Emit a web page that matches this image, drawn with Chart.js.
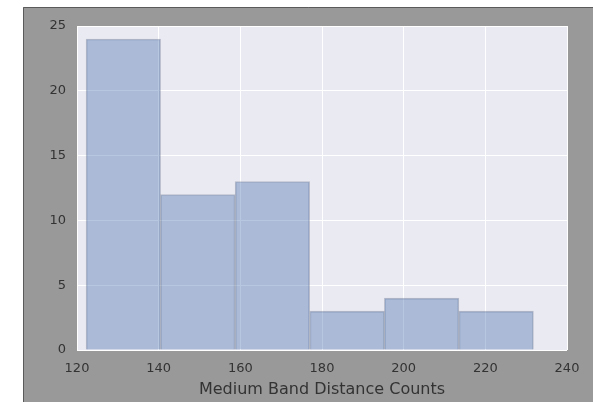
<!DOCTYPE html>
<html>
<head>
<meta charset="utf-8">
<script src="https://cdn.jsdelivr.net/npm/chart.js@4/dist/chart.umd.min.js"></script>
<style>
  html, body { margin: 0; padding: 0; background: #ffffff; }
  canvas { display: block; }
</style>
</head>
<body>
<canvas id="c" width="593" height="402"></canvas>
<script>
// Histogram bin edges and counts
const binEdges = [122.2, 140.5, 158.7, 177.0, 195.3, 213.5, 231.8];
const counts = [24, 12, 13, 3, 4, 3];
const xTicks = [120, 140, 160, 180, 200, 220, 240];
const yTicks = [0, 5, 10, 15, 20, 25];
const xLabel = 'Medium Band Distance Counts';

const points = counts.map((c, i) => ({ x: (binEdges[i] + binEdges[i + 1]) / 2, y: c }));

const framePlugin = {
  id: 'frame',
  beforeDraw(chart) {
    const ctx = chart.ctx;
    ctx.save();
    ctx.fillStyle = '#ffffff';
    ctx.fillRect(0, 0, chart.width, chart.height);
    ctx.fillStyle = '#999999';
    ctx.fillRect(23, 7, chart.width - 23, chart.height - 7);
    ctx.strokeStyle = '#5a5a5a';
    ctx.lineWidth = 1;
    ctx.beginPath();
    ctx.moveTo(23.5, chart.height);
    ctx.lineTo(23.5, 7.5);
    ctx.lineTo(chart.width, 7.5);
    ctx.stroke();
    const a = chart.chartArea;
    ctx.fillStyle = '#EAEAF2';
    ctx.fillRect(a.left, a.top, a.right - a.left, a.bottom - a.top);
    ctx.restore();
  }
};

new Chart(document.getElementById('c'), {
  type: 'bar',
  data: {
    datasets: [{
      data: points,
      backgroundColor: 'rgba(76,114,176,0.4)',
      borderColor: 'rgba(90,100,130,0.35)',
      borderWidth: 1,
      barPercentage: 1.0,
      categoryPercentage: 1.0,
      grouped: false
    }]
  },
  options: {
    responsive: false,
    animation: false,
    devicePixelRatio: 1,
    layout: { padding: { left: 0, top: 26, right: 26, bottom: 0 } },
    plugins: { legend: { display: false }, tooltip: { enabled: false } },
    scales: {
      x: {
        type: 'linear',
        offset: false,
        min: 120, max: 240,
        afterBuildTicks(scale) { scale.ticks = xTicks.map(v => ({ value: v })); },
        afterFit(scale) { scale.height = 52; },
        grid: { color: '#ffffff', lineWidth: 1, drawTicks: false, offset: false },
        border: { display: false },
        ticks: {
          padding: 11,
          color: '#333333',
          font: { family: 'DejaVu Sans', size: 13 },
          maxRotation: 0,
          autoSkip: false
        },
        title: {
          display: true,
          text: xLabel,
          color: '#333333',
          font: { family: 'DejaVu Sans', size: 16 },
          padding: { top: 0, bottom: 3 }
        }
      },
      y: {
        min: 0, max: 25,
        afterBuildTicks(scale) { scale.ticks = yTicks.map(v => ({ value: v })); },
        afterFit(scale) { scale.width = 77; },
        grid: { color: '#ffffff', lineWidth: 1, drawTicks: false },
        border: { display: false },
        ticks: {
          padding: 11,
          color: '#333333',
          font: { family: 'DejaVu Sans', size: 13 }
        }
      }
    }
  },
  plugins: [framePlugin]
});
</script>
</body>
</html>
